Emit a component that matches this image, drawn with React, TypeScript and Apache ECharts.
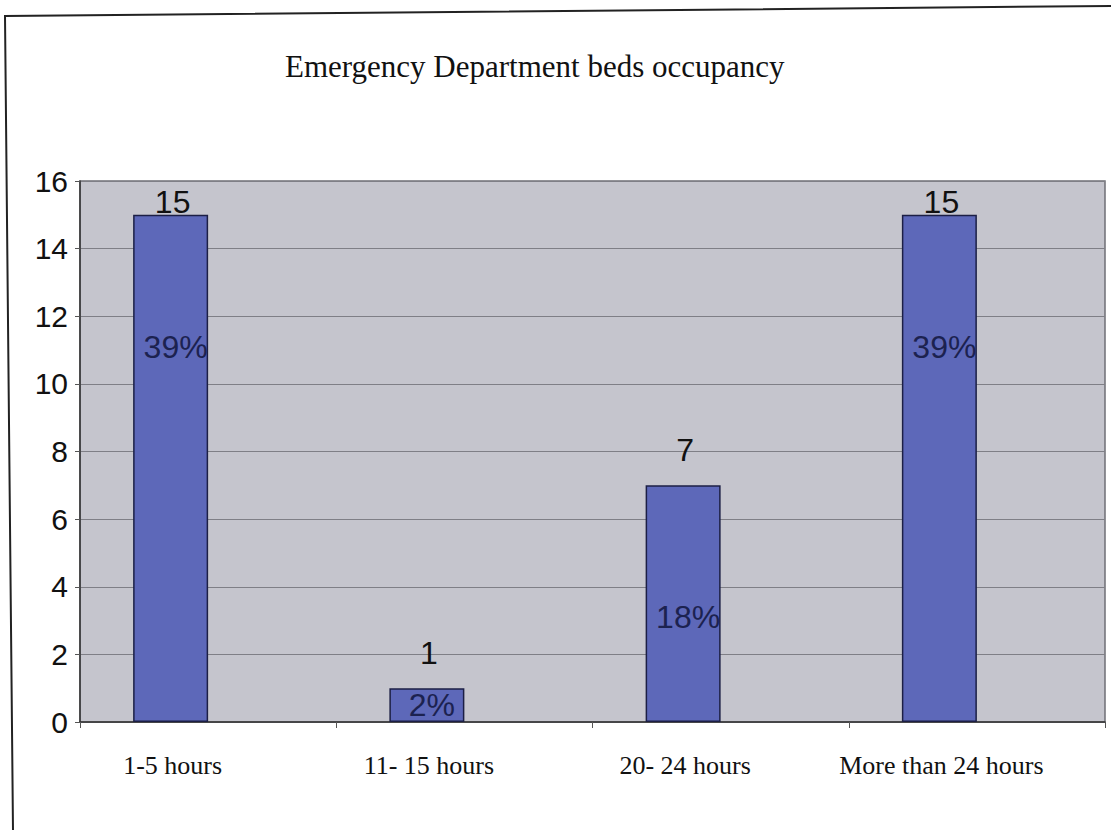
import React, { useEffect, useRef } from "react";
import * as echarts from "echarts";

const TITLE = "Emergency Department beds occupancy";
const categories = ["1-5 hours", "11- 15 hours", "20- 24 hours", "More than 24 hours"];
const counts = [15, 1, 7, 15];
const percentLabels = ["39%", "2%", "18%", "39%"];
const yTicks = { min: 0, max: 16, interval: 2 };

export default function App() {
  const ref = useRef<HTMLDivElement>(null);

  useEffect(() => {
    document.body.style.margin = "0";
    const chart = echarts.init(ref.current!, null, { renderer: "svg" });
    const sans = "'Liberation Sans', Arial, sans-serif";
    const serif = "'Liberation Serif', 'Times New Roman', serif";
    const BAR_W = 75;

    const option: any = {
      animation: false,
      backgroundColor: "#ffffff",
      title: {
        text: TITLE,
        left: 280,
        top: 46,
        textStyle: { fontFamily: serif, fontSize: 31, fontWeight: "normal", color: "#111111" },
      },
      graphic: [
        {
          type: "polyline",
          shape: { points: [[13, 830], [5, 16], [1111, 6]] },
          style: { stroke: "#222222", lineWidth: 2, fill: "none" },
          silent: true,
        },
      ],
      grid: {
        left: 80,
        right: 6,
        top: 181,
        bottom: 108,
        show: true,
        backgroundColor: "#c5c5cd",
        borderColor: "#6f6f76",
        borderWidth: 1.5,
      },
      xAxis: {
        type: "category",
        data: categories,
        axisLine: { show: true, lineStyle: { color: "#333333", width: 1.5 } },
        axisTick: { show: true, length: 6, lineStyle: { color: "#555555" } },
        axisLabel: {
          margin: 30,
          interval: 0,
          formatter: (v: string) => `{a|${v}}`,
          rich: {
            a: {
              fontFamily: serif,
              fontSize: 26,
              color: "#111111",
              padding: [0, BAR_W - 4, 0, 0],
            },
          },
        },
      },
      yAxis: {
        type: "value",
        min: yTicks.min,
        max: yTicks.max,
        interval: yTicks.interval,
        axisLine: { show: true, lineStyle: { color: "#333333", width: 1.5 } },
        axisTick: { show: true, length: 5, lineStyle: { color: "#555555" } },
        axisLabel: { fontFamily: sans, fontSize: 30, color: "#111111", margin: 12 },
        splitLine: { show: true, lineStyle: { color: "#7f7f86", width: 1 } },
      },
      series: [
        {
          type: "bar",
          barWidth: BAR_W,
          barGap: "0%",
          itemStyle: { color: "#5d68b9", borderColor: "#1c1f45", borderWidth: 1.5 },
          data: counts.map((v, i) => ({
            value: v,
            label: {
              show: true,
              formatter: percentLabels[i],
              position: v < 3 ? "inside" : "insideTop",
              distance: v < 3 ? 0 : 116,
              offset: [5, 0],
              fontFamily: sans,
              fontSize: 32,
              color: "#1c2250",
            },
          })),
        },
        {
          type: "bar",
          barWidth: BAR_W,
          barGap: "0%",
          itemStyle: { color: "rgba(0,0,0,0)", borderWidth: 0 },
          data: counts.map((v) => ({
            value: v,
            label: {
              show: true,
              position: "top",
              distance: v >= 14 ? -3 : 19,
              offset: [-BAR_W + 2, 0],
              fontFamily: sans,
              fontSize: 32,
              color: "#111111",
            },
          })),
        },
      ],
    };

    chart.setOption(option);
    return () => chart.dispose();
  }, []);

  return <div ref={ref} style={{ width: 1111, height: 830 }} />;
}
